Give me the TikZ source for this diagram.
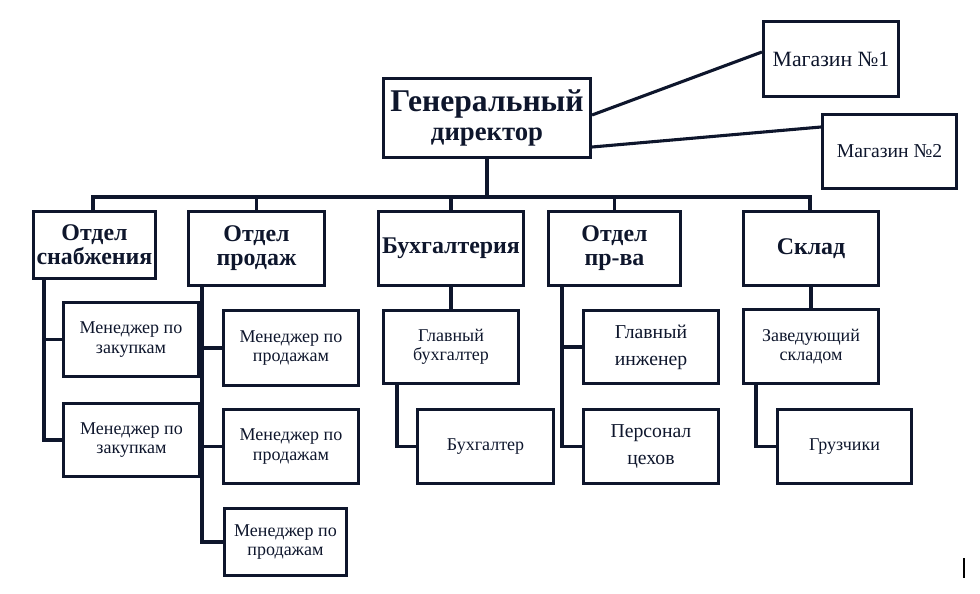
\documentclass[tikz,border=0pt]{standalone}
\usepackage{fontspec}
\setmainfont{Liberation Serif}
\usetikzlibrary{calc}
\definecolor{navy}{RGB}{14,22,44}
\begin{document}
\begin{tikzpicture}[x=0.025cm,y=-0.025cm,
  box/.style={draw=navy,line width=2.2pt,inner sep=0pt,align=center,text=navy},
  wh/.style 2 args={minimum width={0.025cm*(#1-3)},minimum height={0.025cm*(#2-3)}},
  conn/.style={draw=navy,line width=2.2pt},
  dept/.style={box,font=\bfseries\fontsize{17}{17}\selectfont},
  sm/.style={box,font=\fontsize{12.8}{13.8}\selectfont},
  md/.style={box,font=\fontsize{14}{19}\selectfont}]
\useasboundingbox (0,0) rectangle (980,593);

% top
\node[box,wh={210}{82},font=\bfseries\fontsize{22.5}{21}\selectfont] (g) at (487,118)
  {Генеральный\\{\fontsize{19}{21}\selectfont директор}};
\node[box,wh={138}{78},font=\fontsize{15.5}{17}\selectfont] (m1) at (831,59) {Магазин №1};
\node[box,wh={137}{77},font=\fontsize{14}{16}\selectfont] (m2) at (889.5,151.5) {Магазин №2};

% departments
\node[dept,wh={125}{70}] (d1) at (94.5,245) {Отдел\\снабжения};
\node[dept,wh={139}{77}] (d2) at (256.5,248.5) {Отдел\\продаж};
\node[dept,wh={148}{77}] (d3) at (451,248.5) {Бухгалтерия};
\node[dept,wh={135}{77}] (d4) at (614.5,248.5) {Отдел\\пр-ва};
\node[dept,wh={138}{77}] (d5) at (811,248.5) {Склад};

% sub boxes
\node[sm,wh={138}{77}] (s11) at (131,339.5) {Менеджер по\\закупкам};
\node[sm,wh={139}{76}] (s12) at (131.5,440) {Менеджер по\\закупкам};
\node[sm,wh={138}{78}] (s21) at (291,348) {Менеджер по\\продажам};
\node[sm,wh={138}{77}] (s22) at (291,446.5) {Менеджер по\\продажам};
\node[sm,wh={125}{70}] (s23) at (285.5,542) {Менеджер по\\продажам};
\node[sm,wh={138}{76}] (s31) at (451,347) {Главный\\бухгалтер};
\node[sm,wh={139}{77}] (s32) at (485.5,446.5) {Бухгалтер};
\node[md,wh={138}{76}] (s41) at (651,347) {Главный\\инженер};
\node[md,wh={138}{77}] (s42) at (651,446.5) {Персонал\\цехов};
\node[sm,wh={138}{77}] (s51) at (811,346.5) {Заведующий\\складом};
\node[sm,wh={137}{77}] (s52) at (844.5,446.5) {Грузчики};

% bus
\coordinate (busL) at (93,197);
\coordinate (busR) at (810,197);
\draw[conn] (busL |- d1.north) -- (busL) -- (busR) -- (busR |- d5.north);
\draw[conn] (g.south) -- (g.south |- busL);
\draw[conn] (d2.north) -- (d2.north |- busL);
\draw[conn] (d3.north) -- (d3.north |- busL);
\draw[conn] (d4.north) -- (d4.north |- busL);

% shops
\draw[conn] ($(g.east)+(0,-3)$) -- ($(m1.west)+(0,-7)$);
\draw[conn] ($(g.east)+(0,29)$) -- ($(m2.west)+(0,-24.5)$);

% supply dept
\coordinate (v1) at ($(d1.south west)+(12,0)$);
\draw[conn] (v1) |- (s12.west);
\draw[conn] (v1 |- s11.west) -- (s11.west);

% sales dept
\coordinate (v2) at ($(d2.south west)+(15,0)$);
\draw[conn] (v2) |- (s23.west);
\draw[conn] (v2 |- s21.west) -- (s21.west);
\draw[conn] (v2 |- s22.west) -- (s22.west);

% accounting
\draw[conn] (d3.south) -- (s31.north);
\coordinate (v3) at ($(s31.south west)+(15,0)$);
\draw[conn] (v3) |- (s32.west);

% production
\coordinate (v4) at ($(d4.south west)+(15,0)$);
\draw[conn] (v4) |- (s42.west);
\draw[conn] (v4 |- s41.west) -- (s41.west);

% warehouse
\draw[conn] (d5.south) -- (s51.north);
\coordinate (v5) at ($(s51.south west)+(14,0)$);
\draw[conn] (v5) |- (s52.west);

% stray mark
\draw[black,line width=1pt] (964,558) -- (964,578);
\end{tikzpicture}
\end{document}
